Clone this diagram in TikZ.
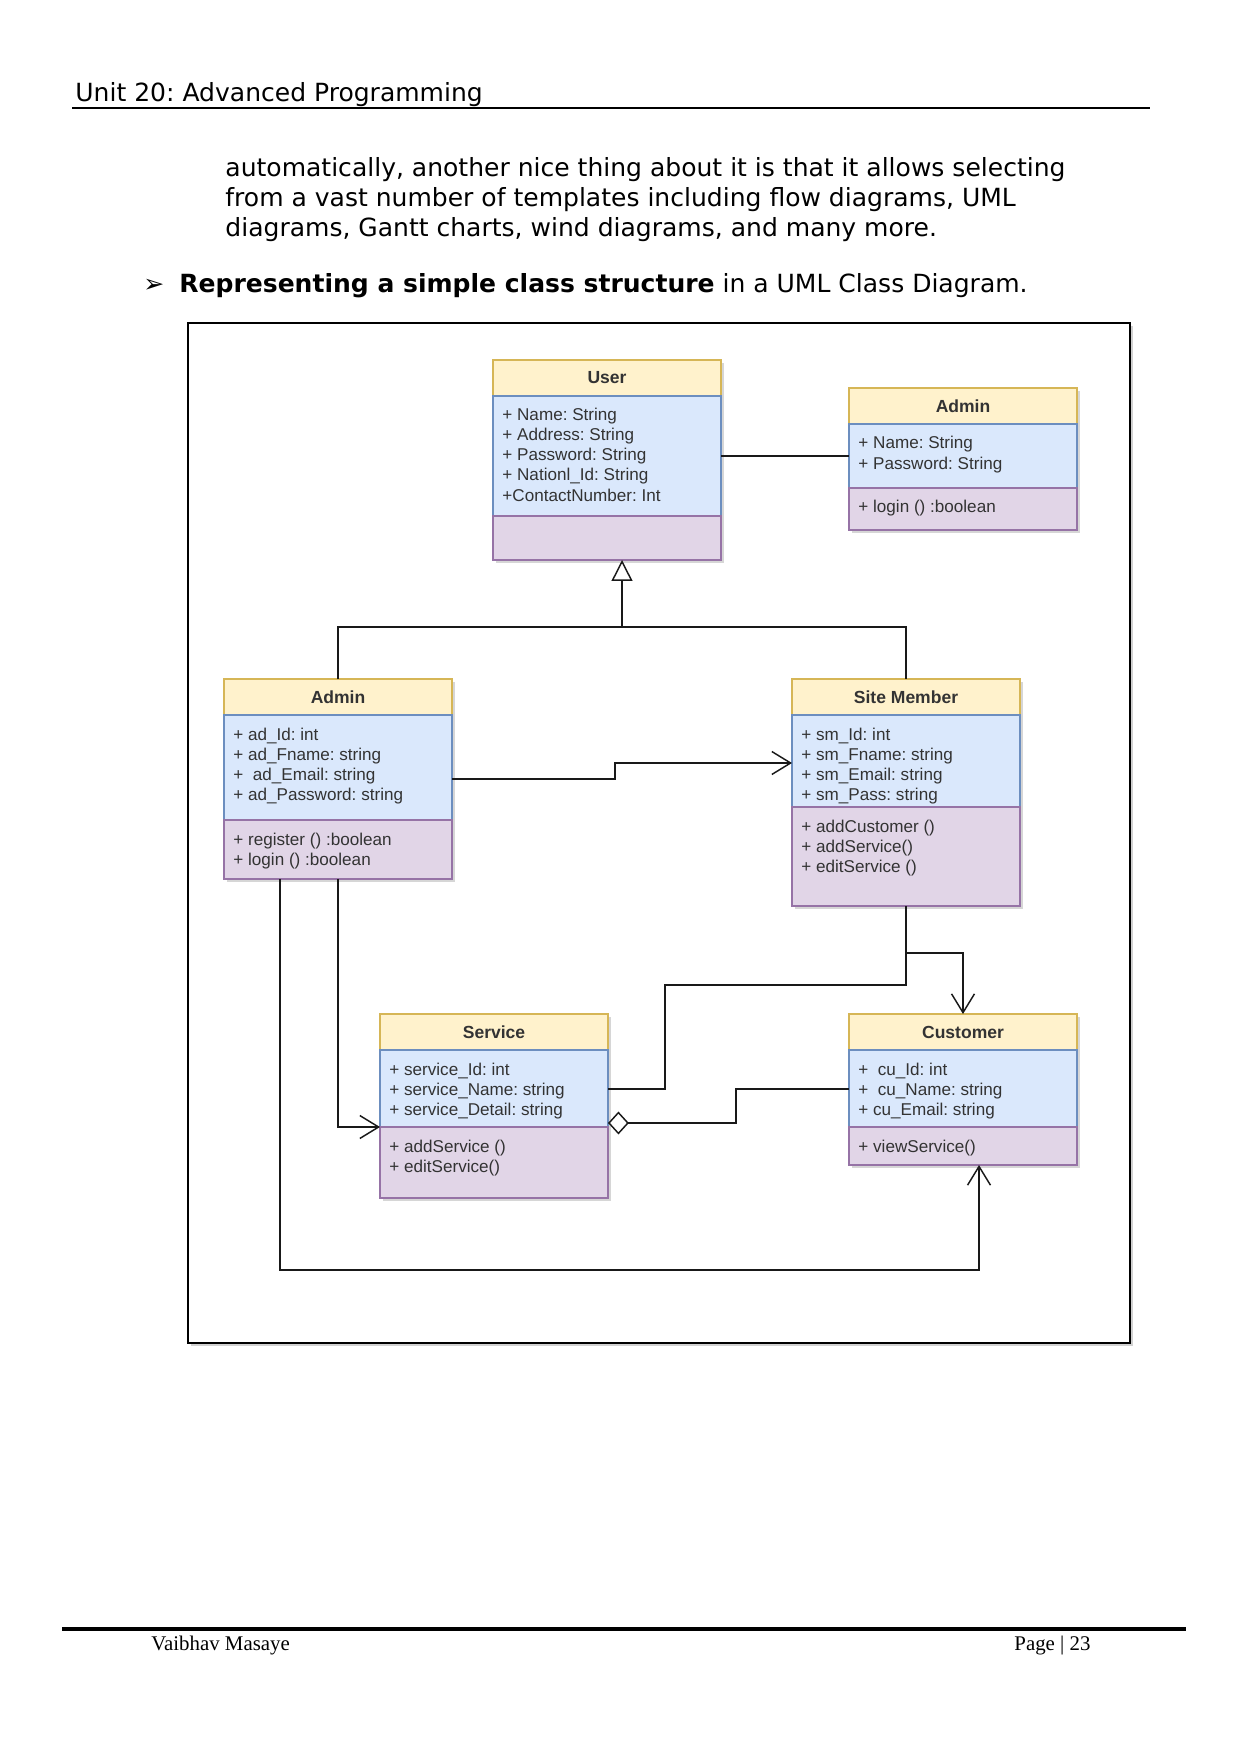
\documentclass[tikz,border=0pt]{standalone}
\usepackage{fontspec}
\setmainfont{DejaVu Sans}
\newfontfamily\arialf{Liberation Sans}
\newfontfamily\timesf{Liberation Serif}
\usetikzlibrary{arrows.meta}
\frenchspacing
\definecolor{hdrfill}{HTML}{FFF2CC}
\definecolor{hdrdraw}{HTML}{D6B656}
\definecolor{attrfill}{HTML}{DAE8FC}
\definecolor{attrdraw}{HTML}{6C8EBF}
\definecolor{methfill}{HTML}{E1D5E7}
\definecolor{methdraw}{HTML}{9673A6}
\definecolor{umltext}{HTML}{333333}
\tikzset{
  secbox/.style={draw, line width=0.5pt, minimum width={228*0.4795pt}, inner sep=0pt, outer sep=0pt, anchor=north west},
  hdr/.style={secbox, fill=hdrfill, draw=hdrdraw, minimum height={36*0.4795pt}, font=\arialf\bfseries\fontsize{8.4}{10}\selectfont, text=umltext},
  attr/.style={secbox, fill=attrfill, draw=attrdraw, anchor=north},
  meth/.style={secbox, fill=methfill, draw=methdraw, anchor=north},
  shad/.style={secbox, draw=none, fill=black!35, opacity=0.45},
  ltxt/.style={anchor=base west, inner sep=0pt, font=\arialf\fontsize{8.2}{9.6}\selectfont, text=umltext},
  bodytxt/.style={anchor=base west, inner sep=0pt, font=\fontsize{12}{14}\selectfont},
  foottxt/.style={anchor=base west, inner sep=0pt, font=\timesf\fontsize{10}{12}\selectfont},
  conn/.style={draw=black!90, line width=0.7pt},
  openarr/.style={-{Straight Barb[length=9pt,width=11pt]}},
}
\newcommand\umlclass[8]{%
  \node[shad, minimum height={(36+#4+#5)*0.4795pt}] (#1S) at ({#2+3},{#3+3}) {};
  \node[hdr] (#1H) at (#2,#3) {#6};
  \node[attr, minimum height={#4*0.4795pt}] (#1A) at (#1H.south) {};
  \node[meth, minimum height={#5*0.4795pt}] (#1M) at (#1A.south) {};
  \foreach \ln [count=\i] in {#7} {\node[ltxt] (#1a\i) at ([shift={(9,{25+20*(\i-1)})}]#1A.north west) {\ln};}
  \foreach \ln [count=\i] in {#8} {\node[ltxt] (#1m\i) at ([shift={(9,{25+20*(\i-1)})}]#1M.north west) {\ln};}
}
\begin{document}
\begin{tikzpicture}[x=0.4795pt, y=-0.4795pt]
\useasboundingbox[fill=white] (0,0) rectangle (1241,1754);
% page header
\node[bodytxt] (head) at (75,102) {Unit 20: Advanced Programming};
\draw[line width=1pt] (72,108) -- (1150,108);
% body text
\node[bodytxt] (p1) at (225,177) {automatically, another nice thing about it is that it allows selecting};
\node[bodytxt] (p2) at (225,207) {from a vast number of templates including flow diagrams, UML};
\node[bodytxt] (p3) at (225,237) {diagrams, Gantt charts, wind diagrams, and many more.};
\node[bodytxt] (bul) at (143,293) {➢};
\node[bodytxt] (bt) at (179,293) {\textbf{Representing a simple class structure} in a UML Class Diagram.};
% frame
\fill[black!18] (191,326) rectangle (1133,1346);
\draw[line width=1pt, fill=white] (188,323) rectangle (1130,1343);
% classes
\umlclass{user}{493}{360}{120}{44}{User}{+ Name: String,+ Address: String,+ Password: String,+ Nationl\_Id: String,+ContactNumber: Int}{}
\umlclass{adminT}{849}{388}{64}{42}{Admin}{+ Name: String,+ Password: String}{+ login () :boolean}
\umlclass{adminL}{224}{679}{105}{59}{Admin}{+ ad\_Id: int,+ ad\_Fname: string,+\ \ ad\_Email: string,+ ad\_Password: string}{+ register () :boolean,+ login () :boolean}
\umlclass{site}{792}{679}{92}{99}{Site Member}{+ sm\_Id: int,+ sm\_Fname: string,+ sm\_Email: string,+ sm\_Pass: string}{+ addCustomer (),+ addService(),+ editService ()}
\umlclass{service}{380}{1014}{77}{71}{Service}{+ service\_Id: int,+ service\_Name: string,+ service\_Detail: string}{+ addService (),+ editService()}
\umlclass{customer}{849}{1014}{77}{38}{Customer}{+\ \ cu\_Id: int,+\ \ cu\_Name: string,+ cu\_Email: string}{+ viewService()}
% connectors
\coordinate (inh) at (622,627);
\draw[conn] (userA.east) -- (adminTA.west);
\draw[conn] (adminLH.north) |- (inh) -| (siteH.north);
\draw[conn, -{Triangle[open,length=10pt,width=10pt]}] (inh) -- (inh |- userM.south);
\draw[conn, openarr] (adminLA.east |- 0,779) -| (615,763) -- (siteA.west |- 0,763);
\draw[conn, openarr] (adminLM.south) |- (serviceA.south west);
\draw[conn, openarr] (adminLM.south -| 280,0) |- (979,1270) -- (customerM.south -| 979,0);
\draw[conn, openarr] (siteM.south) |- (963,953) -- (customerH.north);
\draw[conn] (siteM.south) |- (665,985) |- (serviceA.east |- 0,1089);
\draw[conn, {Diamond[open,length=10pt,width=11pt]}-] (serviceA.east |- 0,1123) -| (736,1089) -- (customerA.west |- 0,1089);
% footer
\draw[line width=1.7pt] (62,1629) -- (1186,1629);
\node[foottxt] (fl) at (151,1650) {Vaibhav Masaye};
\node[foottxt] (fr) at (1014,1650) {Page | 23};
\end{tikzpicture}
\end{document}
